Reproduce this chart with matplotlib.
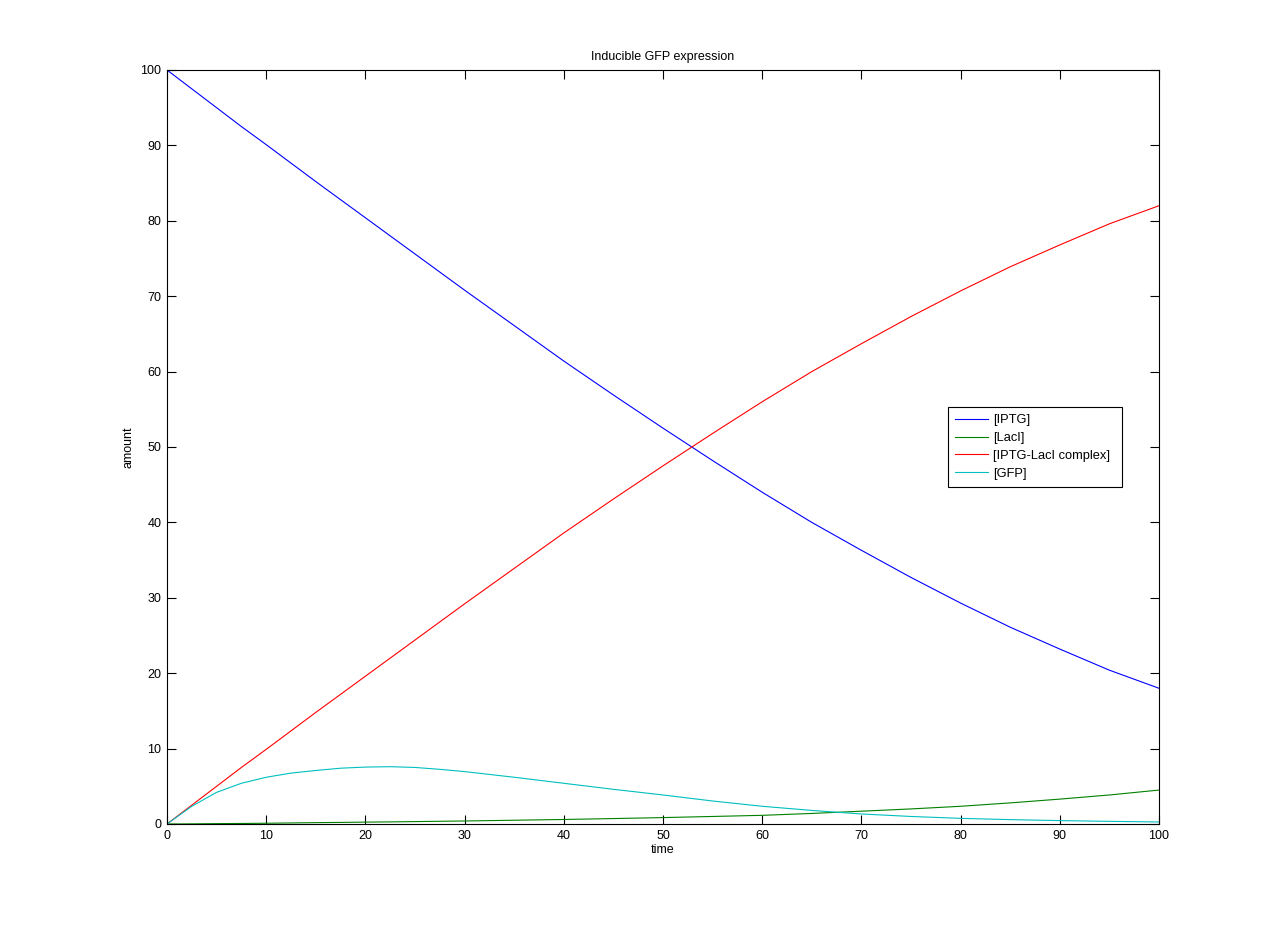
import numpy as np
import matplotlib
matplotlib.use('Agg')
import matplotlib.pyplot as plt

plt.rcParams['font.family'] = ['Liberation Sans', 'DejaVu Sans']
plt.rcParams['font.size'] = 9

# values
time = [0, 2.5, 5, 7.5, 10, 12.5, 15, 17.5, 20, 22.5, 25, 27.5, 30, 35, 40, 45, 50, 55,
        60, 65, 70, 75, 80, 85, 90, 95, 100]
complex_ = [0, 2.5, 5.0, 7.5, 9.9, 12.35, 14.8, 17.2, 19.6, 22.0, 24.4, 26.8, 29.2, 33.9,
            38.6, 43.1, 47.5, 51.8, 56.0, 60.0, 63.7, 67.3, 70.7, 73.9, 76.8, 79.6, 82.0]
iptg = [100 - c for c in complex_]
laci = [0, 0.02, 0.05, 0.07, 0.1, 0.14, 0.18, 0.21, 0.25, 0.28, 0.32, 0.36, 0.4, 0.5,
        0.6, 0.72, 0.85, 1.0, 1.15, 1.4, 1.7, 2.0, 2.35, 2.8, 3.3, 3.85, 4.5]
gfp = [0, 2.35, 4.2, 5.4, 6.2, 6.75, 7.1, 7.4, 7.55, 7.6, 7.5, 7.25, 6.95, 6.2,
       5.4, 4.6, 3.85, 3.05, 2.35, 1.8, 1.33, 1.0, 0.75, 0.58, 0.45, 0.35, 0.27]

labels = ['[IPTG]', '[LacI]', '[IPTG-LacI complex]', '[GFP]']
colors = ['#0000ff', '#008000', '#ff0000', '#00bfbf']

fig = plt.figure(figsize=(12.81, 9.27), dpi=100)
ax = fig.add_axes([167/1281, 1 - 824/927, (1159-167)/1281, (824-70)/927])

for y, lab, c in zip([iptg, laci, complex_, gfp], labels, colors):
    ax.plot(time, y, color=c, lw=0.8, label=lab)

ax.set_xlim(0, 100)
ax.set_ylim(0, 100)
ax.set_xticks(range(0, 101, 10))
ax.set_yticks(range(0, 101, 10))
ax.tick_params(direction='in', length=6.5, top=True, right=True, width=0.8, pad=4)
for s in ax.spines.values():
    s.set_linewidth(0.8)

ax.set_title('Inducible GFP expression', fontsize=9, pad=7)
ax.set_xlabel('time', labelpad=2)
ax.set_ylabel('amount', labelpad=4)

leg = ax.legend(loc='lower left', bbox_to_anchor=(0.787, 0.447, 0.176, 0.105),
                mode='expand', fancybox=False, framealpha=1, edgecolor='black',
                fontsize=9.3, borderpad=0.55, labelspacing=0.45, handlelength=2.6,
                handletextpad=0.35, borderaxespad=0)
leg.get_frame().set_linewidth(0.8)

fig.savefig('out.png', dpi=100)
